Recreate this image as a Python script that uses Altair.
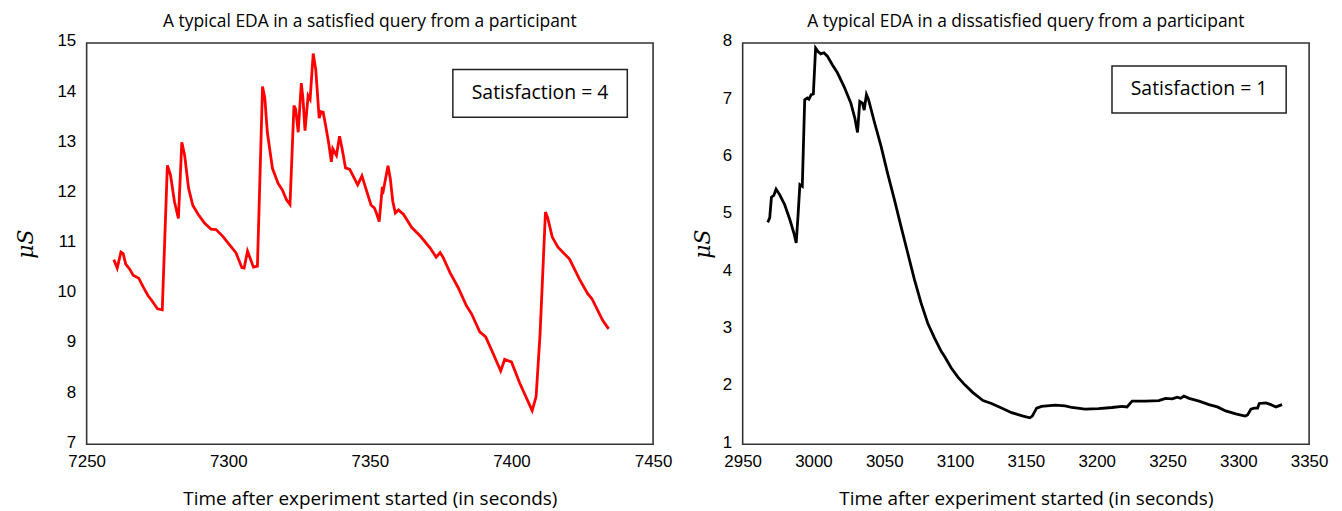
import altair as alt
import pandas as pd

# ---- Left panel (satisfied) ----
sat_time = [7259.6, 7260.8, 7262.1, 7262.9, 7263.8, 7265.2, 7266.4, 7268.4, 7269.9, 7271.7,
            7272.8, 7275.0, 7276.7, 7278.5, 7279.6, 7281.0, 7282.4, 7283.6, 7284.6, 7286.0,
            7287.5, 7289.3, 7291.6, 7293.9, 7295.7, 7298.0, 7300.4, 7302.7, 7304.8, 7305.6,
            7306.8, 7308.9, 7310.3, 7312.1, 7312.9, 7313.8, 7315.6, 7317.6, 7319.1, 7320.6,
            7321.8, 7323.2, 7323.8, 7324.7, 7325.8, 7326.4, 7327.1, 7328.2, 7328.9, 7330.0,
            7330.9, 7332.1, 7332.8, 7333.5, 7334.4, 7335.5, 7336.4, 7336.9, 7338.2, 7339.3,
            7340.2, 7341.4, 7342.9, 7345.7, 7347.2, 7348.4, 7350.4, 7351.6, 7352.3, 7353.3,
            7354.4, 7354.8, 7356.4, 7357.2, 7358.1, 7359.0, 7360.1, 7361.9, 7364.8, 7367.8,
            7371.3, 7373.4, 7374.8, 7375.9, 7378.3, 7381.2, 7384.1, 7385.9, 7388.8, 7390.9,
            7393.5, 7396.2, 7397.6, 7400.0, 7402.9, 7407.3, 7408.7, 7410.1, 7412.0, 7412.8,
            7414.4, 7416.4, 7420.5, 7424.0, 7426.9, 7428.4, 7432.2, 7434.3]
sat_eda = [10.68, 10.51, 10.83, 10.80, 10.59, 10.49, 10.37, 10.31, 10.14, 9.96,
           9.88, 9.70, 9.68, 12.56, 12.37, 11.84, 11.50, 13.02, 12.76, 12.10,
           11.76, 11.59, 11.41, 11.29, 11.28, 11.15, 10.98, 10.82, 10.52, 10.51,
           10.85, 10.53, 10.55, 14.13, 13.91, 13.22, 12.50, 12.20, 12.07, 11.87,
           11.78, 13.75, 13.68, 13.22, 14.20, 13.88, 13.25, 13.95, 13.88, 14.79,
           14.47, 13.50, 13.63, 13.62, 13.35, 12.99, 12.63, 12.89, 12.76, 13.14,
           12.89, 12.51, 12.48, 12.17, 12.35, 12.13, 11.77, 11.71, 11.61, 11.44,
           12.13, 12.07, 12.55, 12.30, 11.84, 11.61, 11.67, 11.58, 11.32, 11.15,
           10.91, 10.73, 10.82, 10.72, 10.42, 10.12, 9.76, 9.60, 9.24, 9.14,
           8.81, 8.46, 8.69, 8.64, 8.22, 7.67, 7.95, 9.20, 11.63, 11.51,
           11.13, 10.93, 10.69, 10.29, 10.00, 9.90, 9.47, 9.30]

# ---- Right panel (dissatisfied) ----
dis_time = [2967.7, 2969.1, 2970.3, 2972.0, 2973.6, 2976.2, 2979.6, 2983.3, 2986.2, 2987.8,
            2989.2, 2990.4, 2992.1, 2993.8, 2995.6, 2996.8, 2998.4, 2999.9, 3001.5, 3003.2,
            3005.1, 3007.4, 3009.8, 3013.3, 3016.9, 3021.6, 3026.4, 3029.2, 3031.1, 3032.7,
            3034.6, 3035.8, 3037.4, 3038.9, 3042.9, 3047.7, 3052.3, 3057.1, 3061.8, 3066.5,
            3071.3, 3076.0, 3080.7, 3085.5, 3090.2, 3092.6, 3097.3, 3102.0, 3106.7, 3112.6,
            3119.7, 3125.7, 3132.8, 3139.9, 3148.1, 3152.8, 3154.5, 3157.6, 3161.1, 3170.6,
            3177.7, 3182.4, 3191.8, 3201.3, 3210.8, 3217.9, 3221.4, 3225.0, 3234.4, 3243.9,
            3248.6, 3253.4, 3256.9, 3259.3, 3261.6, 3265.2, 3272.3, 3279.3, 3285.2, 3291.1,
            3298.2, 3304.8, 3306.5, 3308.9, 3311.2, 3313.6, 3314.8, 3319.5, 3323.0, 3326.6,
            3330.9]
dis_eda = [4.87, 4.95, 5.31, 5.34, 5.45, 5.35, 5.18, 4.92, 4.68, 4.51,
           5.03, 5.53, 5.50, 7.01, 7.04, 7.02, 7.10, 7.11, 7.91, 7.85,
           7.81, 7.83, 7.77, 7.62, 7.48, 7.24, 6.95, 6.69, 6.44, 6.98,
           6.95, 6.83, 7.10, 7.01, 6.63, 6.20, 5.73, 5.27, 4.80, 4.34,
           3.87, 3.46, 3.11, 2.85, 2.62, 2.53, 2.33, 2.17, 2.04, 1.90,
           1.76, 1.71, 1.63, 1.55, 1.49, 1.46, 1.49, 1.63, 1.66, 1.68,
           1.67, 1.64, 1.61, 1.62, 1.64, 1.66, 1.65, 1.75, 1.75, 1.76,
           1.80, 1.79, 1.82, 1.80, 1.84, 1.80, 1.75, 1.69, 1.65, 1.58,
           1.53, 1.49, 1.51, 1.61, 1.63, 1.63, 1.71, 1.72, 1.69, 1.65,
           1.69]

sat_xticks = [7250, 7300, 7350, 7400, 7450]
sat_yticks = [7, 8, 9, 10, 11, 12, 13, 14, 15]
dis_xticks = [2950, 3000, 3050, 3100, 3150, 3200, 3250, 3300, 3350]
dis_yticks = [1, 2, 3, 4, 5, 6, 7, 8]

titles = ["A typical EDA in a satisfied query from a participant",
          "A typical EDA in a dissatisfied query from a participant"]
labels = ["Satisfaction = 4", "Satisfaction = 1"]
# annotation boxes in data coordinates: x1, x2, y1, y2
sat_box = [7379.3, 7440.9, 14.47, 13.52]
dis_box = [3210.8, 3333.8, 7.60, 6.78]

X_TITLE = "Time after experiment started (in seconds)"
W, H = 569, 403
TICK_FONT = "Liberation Sans"
TEXT_FONT = "Open Sans"


def panel(times, vals, xticks, yticks, color, box, label, title, ytitle_pad):
    df = pd.DataFrame({"t": times, "v": vals})
    xs = alt.Scale(domain=[xticks[0], xticks[-1]], nice=False)
    ys = alt.Scale(domain=[yticks[0], yticks[-1]], nice=False)
    xax = alt.Axis(values=xticks, title=X_TITLE, grid=False, ticks=False, domain=False,
                   labelFlush=False, labelFont=TICK_FONT, labelFontSize=17,
                   labelColor="black", labelPadding=9,
                   titleFont=TEXT_FONT, titleFontSize=19, titleFontWeight="normal",
                   titleColor="black", titlePadding=21, format="d")
    yax = alt.Axis(values=yticks, title="μS", grid=False, ticks=False, domain=False,
                   labelFlush=False, labelFont=TICK_FONT, labelFontSize=17,
                   labelColor="black", labelPadding=11, labelOffset=-2,
                   titleFont="DejaVu Serif", titleFontSize=22, titleFontStyle="italic",
                   titleFontWeight="normal", titleColor="black", titlePadding=ytitle_pad,
                   format="d")
    line = alt.Chart(df).mark_line(color=color, strokeWidth=2.8).encode(
        x=alt.X("t:Q", scale=xs, axis=xax),
        y=alt.Y("v:Q", scale=ys, axis=yax),
    )
    bdf = pd.DataFrame({"x1": [box[0]], "x2": [box[1]], "y1": [box[2]], "y2": [box[3]],
                        "xm": [(box[0] + box[1]) / 2], "ym": [(box[2] + box[3]) / 2],
                        "lab": [label]})
    rect = alt.Chart(bdf).mark_rect(fill="white", stroke="#222", strokeWidth=1.5).encode(
        x=alt.X("x1:Q", scale=xs), x2="x2", y=alt.Y("y1:Q", scale=ys), y2="y2")
    txt = alt.Chart(bdf).mark_text(font=TEXT_FONT, fontSize=19.5, color="black").encode(
        x=alt.X("xm:Q", scale=xs), y=alt.Y("ym:Q", scale=ys), text="lab:N")
    return alt.layer(line, rect, txt).properties(
        width=W, height=H,
        title=alt.TitleParams(title, font=TEXT_FONT, fontSize=17.5, fontWeight="normal",
                              color="black", offset=2),
    )


left = panel(sat_time, sat_eda, sat_xticks, sat_yticks, "#ff0000", sat_box, labels[0], titles[0], 19)
right = panel(dis_time, dis_eda, dis_xticks, dis_yticks, "#000000", dis_box, labels[1], titles[1], 8)

chart = alt.hconcat(left, right, spacing=90, bounds="flush").properties(
    padding={"left": 6, "top": 2, "right": 5, "bottom": 5}
).configure_view(stroke="#333", strokeWidth=1.6)

chart.save("out.html", embed_options={"renderer": "svg", "actions": False})
